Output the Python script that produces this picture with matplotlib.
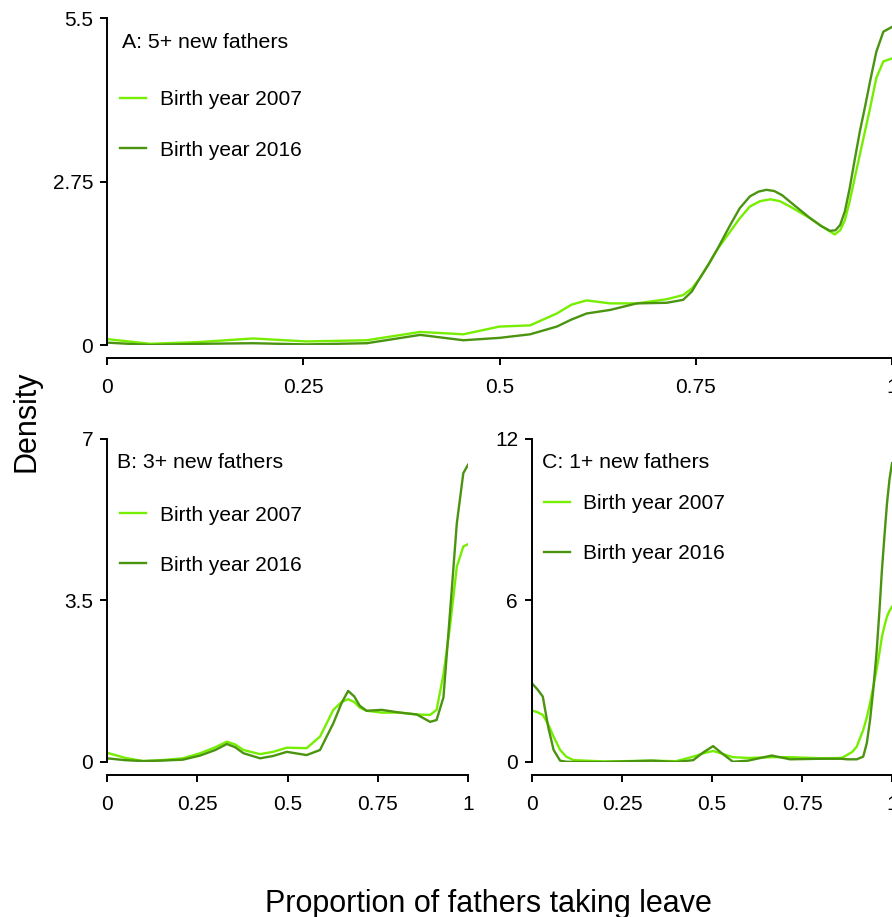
"""Kernel density of the share of fathers taking leave, 2007 vs 2016 birth cohorts.

Three panels by minimum number of new fathers per workplace (5+, 3+, 1+).
"""

import matplotlib.pyplot as plt

plt.rcParams["font.family"] = ["Liberation Sans", "DejaVu Sans"]

COL_2007 = "#76EE00"
COL_2016 = "#4A9410"

# Panel A: 5+ new fathers
a_x_2007 = [0.0, 0.055, 0.118, 0.186, 0.254, 0.331, 0.399, 0.454, 0.5, 0.539,
            0.573, 0.592, 0.611, 0.641, 0.675, 0.713, 0.734, 0.745, 0.755, 0.766,
            0.777, 0.794, 0.806, 0.819, 0.832, 0.845, 0.857, 0.870, 0.883, 0.896,
            0.910, 0.927, 0.934, 0.940, 0.946, 0.952, 0.959, 0.966, 0.972, 0.980,
            0.989, 1.0]
a_y_2007 = [0.10, 0.02, 0.05, 0.11, 0.06, 0.08, 0.22, 0.18, 0.31, 0.33,
            0.53, 0.68, 0.75, 0.70, 0.70, 0.77, 0.84, 0.95, 1.12, 1.35,
            1.60, 1.91, 2.13, 2.33, 2.42, 2.45, 2.42, 2.33, 2.23, 2.13,
            2.00, 1.86, 1.93, 2.10, 2.41, 2.78, 3.20, 3.62, 3.98, 4.49,
            4.77, 4.82]
a_x_2016 = [0.0, 0.055, 0.118, 0.186, 0.254, 0.331, 0.399, 0.454, 0.5, 0.539,
            0.573, 0.592, 0.611, 0.641, 0.675, 0.713, 0.734, 0.745, 0.755, 0.766,
            0.777, 0.794, 0.806, 0.819, 0.830, 0.840, 0.850, 0.860, 0.870, 0.883,
            0.896, 0.910, 0.921, 0.928, 0.934, 0.940, 0.946, 0.952, 0.959, 0.966,
            0.972, 0.980, 0.989, 1.0]
a_y_2016 = [0.04, 0.00, 0.02, 0.03, 0.01, 0.03, 0.17, 0.08, 0.12, 0.18,
            0.31, 0.43, 0.53, 0.59, 0.70, 0.71, 0.76, 0.90, 1.12, 1.35,
            1.60, 2.02, 2.30, 2.50, 2.58, 2.61, 2.59, 2.52, 2.41, 2.27,
            2.13, 2.00, 1.92, 1.93, 2.02, 2.25, 2.63, 3.08, 3.59, 4.03,
            4.43, 4.93, 5.27, 5.35]

# Panel B: 3+ new fathers
b_x = [0.0, 0.05, 0.1, 0.15, 0.21, 0.258, 0.3, 0.332, 0.355, 0.378,
       0.424, 0.46, 0.498, 0.553, 0.59, 0.627, 0.65, 0.668, 0.685, 0.70,
       0.719, 0.761, 0.812, 0.858, 0.895, 0.913, 0.932, 0.95, 0.969, 0.987,
       1.0]
b_y_2007 = [0.20, 0.09, 0.02, 0.04, 0.08, 0.19, 0.32, 0.44, 0.38, 0.26,
            0.17, 0.22, 0.31, 0.30, 0.55, 1.13, 1.30, 1.36, 1.30, 1.18,
            1.11, 1.07, 1.07, 1.03, 1.02, 1.13, 1.90, 2.93, 4.23, 4.67,
            4.72]
b_y_2016 = [0.08, 0.04, 0.02, 0.03, 0.05, 0.14, 0.26, 0.39, 0.32, 0.19,
            0.08, 0.13, 0.22, 0.15, 0.26, 0.84, 1.28, 1.54, 1.42, 1.22,
            1.11, 1.13, 1.07, 1.03, 0.87, 0.91, 1.40, 3.22, 5.17, 6.26,
            6.44]

# Panel C: 1+ new fathers
c_x = [0.0, 0.015, 0.03, 0.045, 0.06, 0.078, 0.095, 0.115, 0.2, 0.333,
       0.4, 0.448, 0.475, 0.503, 0.525, 0.558, 0.6, 0.666, 0.717, 0.8,
       0.86, 0.875, 0.89, 0.902, 0.92, 0.93, 0.939, 0.948, 0.957, 0.965,
       0.972, 0.979, 0.986, 0.993, 1.0]
c_y_2007 = [1.91, 1.85, 1.75, 1.40, 0.94, 0.45, 0.20, 0.07, 0.02, 0.05,
            0.03, 0.20, 0.32, 0.41, 0.32, 0.18, 0.15, 0.18, 0.18, 0.14,
            0.15, 0.26, 0.38, 0.57, 1.19, 1.65, 2.19, 2.80, 3.42, 4.05,
            4.65, 5.05, 5.40, 5.62, 5.77]
c_y_2016 = [2.92, 2.70, 2.43, 1.30, 0.45, 0.05, 0.01, 0.0, 0.0, 0.05,
            0.0, 0.07, 0.35, 0.59, 0.35, 0.01, 0.05, 0.24, 0.10, 0.12,
            0.12, 0.10, 0.10, 0.10, 0.20, 0.70, 1.56, 2.70, 4.05, 5.60,
            7.13, 8.40, 9.60, 10.50, 11.10]

x_ticks = [0, 0.25, 0.5, 0.75, 1]
x_ticklabels = ["0", "0.25", "0.5", "0.75", "1"]
legend_labels = ["Birth year 2007", "Birth year 2016"]


def style_axis(ax, ymax, yticks, yticklabels):
    ax.set_xlim(0, 1)
    ax.set_ylim(0, ymax)
    for side in ("top", "right"):
        ax.spines[side].set_visible(False)
    ax.spines["bottom"].set_position(("outward", 9.4))
    ax.spines["bottom"].set_bounds(0, 1)
    ax.spines["left"].set_bounds(0, ymax)
    for side in ("bottom", "left"):
        ax.spines[side].set_linewidth(1.4)
    ax.set_xticks(x_ticks)
    ax.set_xticklabels(x_ticklabels)
    ax.set_yticks(yticks)
    ax.set_yticklabels(yticklabels)
    ax.tick_params(axis="x", length=5, width=1.4, pad=9.5, labelsize=15)
    ax.tick_params(axis="y", length=5, width=1.4, pad=5, labelsize=15)
    ax.patch.set_visible(False)


def draw_panel(ax, x1, y1, x2, y2, title, title_xy, leg_xy):
    ax.plot(x1, y1, color=COL_2007, lw=1.7, label=legend_labels[0])
    ax.plot(x2, y2, color=COL_2016, lw=1.7, label=legend_labels[1])
    ax.text(*title_xy, title, transform=ax.transAxes, fontsize=15.3,
            ha="left", va="center")
    ax.legend(loc="upper left", bbox_to_anchor=leg_xy, frameon=False,
              fontsize=15, handlelength=1.25, handletextpad=0.65,
              labelspacing=1.5, borderpad=0, borderaxespad=0)


fig = plt.figure(figsize=(8.92, 9.17), dpi=100)

ax_a = fig.add_axes([0.11996, 0.62377, 0.88004, 0.3566])
ax_b = fig.add_axes([0.11996, 0.16903, 0.4047, 0.35224])
ax_c = fig.add_axes([0.59641, 0.16903, 0.4036, 0.35224])

draw_panel(ax_a, a_x_2007, a_y_2007, a_x_2016, a_y_2016,
           "A: 5+ new fathers", (0.0187, 0.924), (0.0166, 0.7783))
style_axis(ax_a, 5.5, [0, 2.75, 5.5], ["0", "2.75", "5.5"])

draw_panel(ax_b, b_x, b_y_2007, b_x, b_y_2016,
           "B: 3+ new fathers", (0.027, 0.926), (0.036, 0.7941))
style_axis(ax_b, 7, [0, 3.5, 7], ["0", "3.5", "7"])

draw_panel(ax_c, c_x, c_y_2007, c_x, c_y_2016,
           "C: 1+ new fathers", (0.028, 0.926), (0.033, 0.8296))
style_axis(ax_c, 12, [0, 6, 12], ["0", "6", "12"])

fig.text(26 / 892, 1 - 421 / 917, "Density", rotation=90, fontsize=22,
         ha="center", va="center")
fig.text(488 / 892, 1 - 912 / 917, "Proportion of fathers taking leave",
         fontsize=22, ha="center", va="baseline")

fig.savefig("out.png", dpi=100)
